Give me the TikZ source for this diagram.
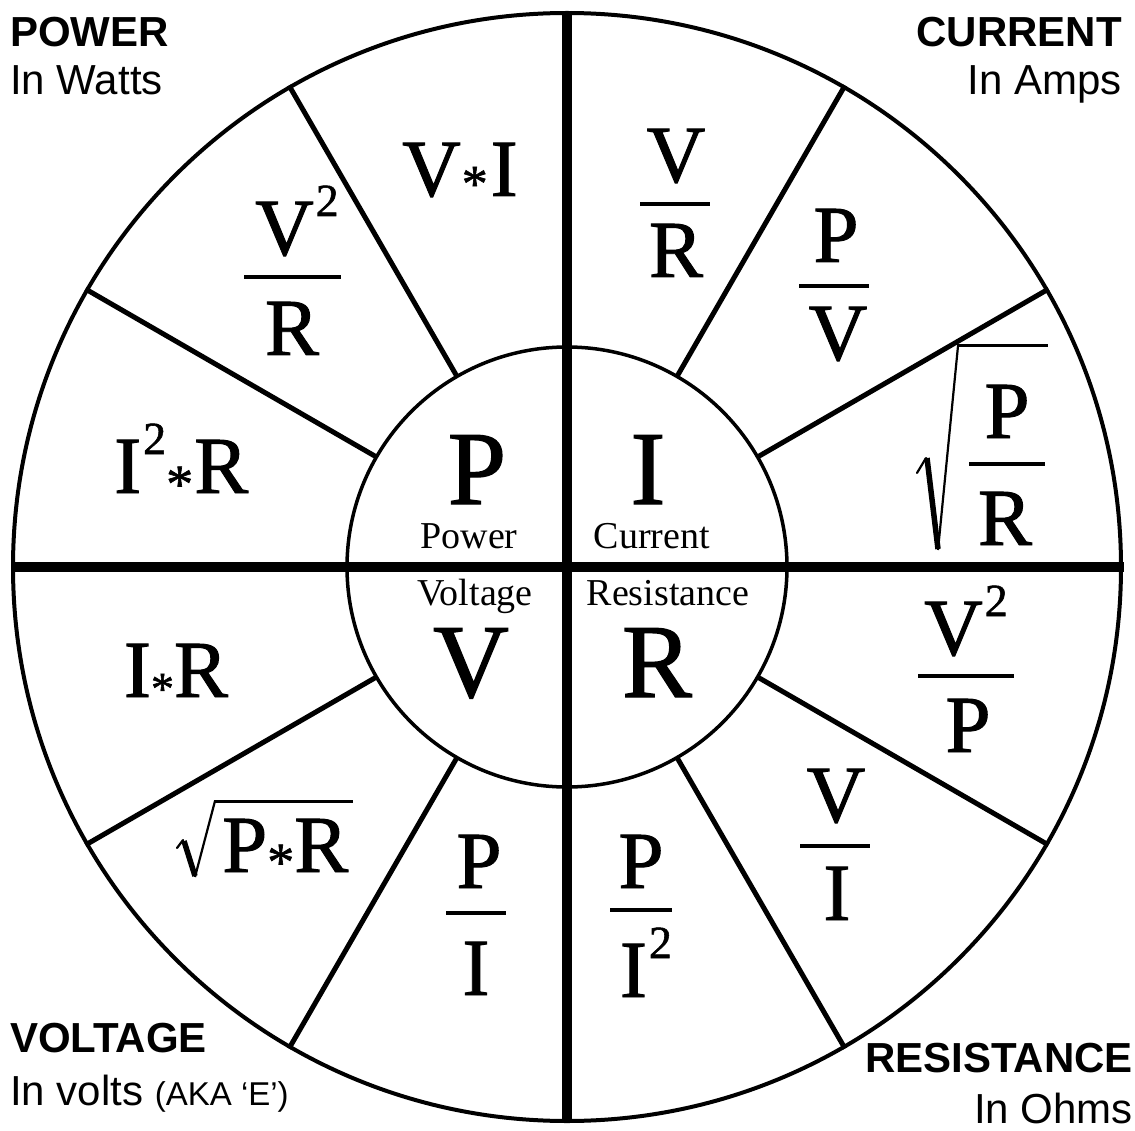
\documentclass[tikz,border=0pt]{standalone}
\usepackage{fontspec}
\usetikzlibrary{calc}
\setmainfont{Liberation Serif}
\setsansfont{Liberation Sans}
\newfontfamily\fml{Liberation Serif}[RawFeature={embolden=1.2}]
\newcommand\myast[2]{\raisebox{#1}{\fontsize{#2}{#2}\selectfont *}}
\newcommand\sq{\kern2pt\raisebox{39pt}{\fontsize{46}{46}\selectfont 2}}
\begin{document}
\begin{tikzpicture}[x=1pt,y=-1pt,
  fa/.style={font=\fml\fontsize{81}{81}\selectfont, inner sep=0pt, anchor=base},
  fbig/.style={font=\fml\fontsize{105}{105}\selectfont, inner sep=0pt, anchor=base, text depth=0pt},
  fsmall/.style={font=\fontsize{38}{38}\selectfont, inner sep=0pt, anchor=base},
  lab/.style={font=\sffamily\fontsize{42}{42}\selectfont, inner sep=0pt},
  labb/.style={font=\sffamily\bfseries\fontsize{42}{42}\selectfont, inner sep=0pt},
  bar/.style={line width=4pt},
  spoke/.style={line width=5pt},
  cross/.style={line width=10pt},
  radthin/.style={line width=2.2pt},
  radthick/.style={line width=5.5pt},
  radover/.style={line width=3pt}]
\useasboundingbox (0,0) rectangle (1135,1131);
\coordinate (c) at (567,567);
% circles
\draw[line width=4pt] (c) circle[radius=554];
\draw[line width=3.5pt] (c) circle[radius=220];
% spokes
\foreach \a in {30,60,120,150,210,240,300,330}
  \draw[spoke] ($(c)+(\a:220)$) -- ($(c)+(\a:556)$);
% cross
\draw[cross] (567,11) -- (567,1123);
\draw[cross] (11,567) -- (1124,567);
% centre
\node[fbig] (P) at (477,504) {P};
\node[fbig] (I) at (648,504) {I};
\node[fbig] (V) at (471,697) {V};
\node[fbig] (R) at (657,697) {R};
\node[fsmall] (pw) at (469,548) {Power};
\node[fsmall] (cu) at (652,548) {Current};
\node[fsmall] (vo) at (475,605) {Voltage};
\node[fsmall] (re) at (668,605) {Resistance};
% V*I
\node[fa] (vi) at (460,196) {V\kern1pt\myast{-5pt}{52}\kern3pt I};
% V/R
\node[fa] (vr1) at (676,182) {V};
\draw[bar] (640,204) -- (710,204);
\node[fa] (vr2) at (676,277) {R};
% P/V
\node[fa] (pv1) at (836,262) {P};
\draw[bar] (799,286) -- (869,286);
\node[fa] (pv2) at (838,360) {V};
% V^2/R
\node[fa] (v2r1) at (297,255) {V\sq};
\draw[bar] (244,277) -- (341,277);
\node[fa] (v2r2) at (292,355) {R};
% I^2*R
\node[fa, anchor=base west] (i2r) at (114,493) {I\sq\myast{-9pt}{54}\kern1pt R};
% sqrt(P/R)
\node[fa] (spr1) at (1007,438) {P};
\draw[bar] (969,464) -- (1045,464);
\node[fa] (spr2) at (1005,545) {R};
\draw[radthin, line cap=round] (917,473) -- (926,458);
\draw[radthick] (927,458) -- (938,549);
\draw[radthin, line join=round] (938,550) -- (958,346);
\draw[radover] (957,346) -- (1048,346);
% V^2/P
\node[fa] (v2p1) at (966,655) {V\sq};
\draw[bar] (918,676) -- (1014,676);
\node[fa] (v2p2) at (968,752) {P};
% V/I
\node[fa] (vi1) at (836,822) {V};
\draw[bar] (800,846) -- (870,846);
\node[fa] (vi2) at (837,920) {I};
% P/I^2
\node[fa] (pi21) at (641,888) {P};
\draw[bar] (610,910) -- (672,910);
\node[fa] (pi22) at (646,997) {I\sq};
% P/I
\node[fa] (pi1) at (479,888) {P};
\draw[bar] (446,913) -- (506,913);
\node[fa] (pi2) at (476,995) {I};
% sqrt(P*R)
\node[fa, anchor=base west] (spr) at (222,872) {P\myast{-8pt}{54}R};
\draw[radthin, line cap=round] (177,848) -- (183,840);
\draw[radthick] (184,841) -- (195,876);
\draw[radthin, line join=round] (195,877) -- (215,801);
\draw[radover] (214,801) -- (353,801);
% I*R
\node[fa] (ir) at (176,697) {I\myast{-7pt}{46}R};
% corner labels
\node[labb, anchor=base west] (t1) at (10,47) {POWER};
\node[lab, anchor=base west] (t2) at (10,95) {In Watts};
\node[labb, anchor=base east] (t3) at (1122,47) {CURRENT};
\node[lab, anchor=base east] (t4) at (1122,95) {In Amps};
\node[labb, anchor=base west] (t5) at (10,1052) {VOLTAGE};
\node[lab, anchor=base west] (t6) at (10,1105) {In volts {\fontsize{33}{33}\selectfont(AKA ‘E’)}};
\node[labb, anchor=base east] (t7) at (1133,1072) {RESISTANCE};
\node[lab, anchor=base east] (t8) at (1133,1123) {In Ohms};
\end{tikzpicture}
\end{document}
